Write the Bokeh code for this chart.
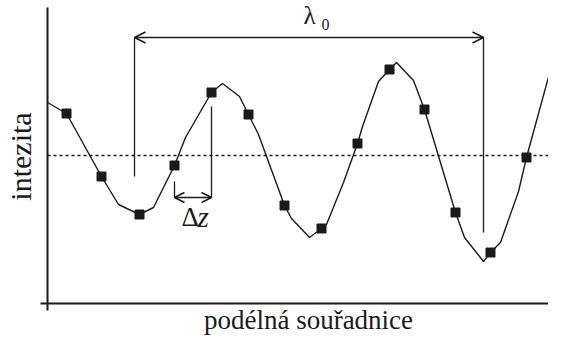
import math
from bokeh.plotting import figure
from bokeh.models import Arrow, OpenHead, Range1d
from bokeh.core.properties import value
from bokeh.embed import file_html
from bokeh.resources import INLINE

# intensity profile along the longitudinal coordinate (polyline vertices)
curve_x = [0.0, 1.9, 5.4, 7.1, 9.2, 10.6, 12.7, 13.8, 16.4, 17.5, 19.2, 20.1,
           21.1, 23.7, 24.4, 26.2, 27.4, 27.9, 29.6, 31.0, 31.5, 33.1, 34.2,
           34.9, 36.6, 37.7, 38.3, 40.8, 41.7, 43.6, 44.3, 45.3, 47.1, 47.9,
           50.5, 51.7]
curve_y = [20.1, 19.0, 12.7, 9.9, 8.9, 9.6, 13.8, 16.6, 21.1, 22.0, 20.7, 18.9,
           16.9, 9.8, 8.5, 6.6, 7.5, 7.9, 12.1, 16.0, 17.7, 22.2, 23.4,
           24.1, 22.3, 19.4, 17.4, 9.1, 6.6, 4.2, 5.1, 6.1, 11.2, 14.6,
           24.1, 25.9]

# sampled points (squares)
sample_x = [1.9, 5.4, 9.2, 12.7, 16.4, 20.1, 23.7, 27.4, 31.0, 34.2, 37.7,
            40.8, 44.3, 47.9]
sample_y = [19.0, 12.7, 8.9, 13.8, 21.1, 18.9, 9.8, 7.5, 16.0, 23.4, 19.4,
            9.1, 5.1, 14.6]

mean_level = 14.8

# lambda_0 marker
lam_x0, lam_x1 = 8.7, 43.6
lam_y = 26.6
lam_left_bottom = 12.7
lam_right_bottom = 7.1

# delta z marker
dz_x0, dz_x1 = 12.7, 16.4
dz_y = 10.6
dz_left_top = 12.2
dz_right_top = 19.7

x_label = "podélná souřadnice"
y_label = "intezita"

INK = "#1a1a1a"
SERIF = value('"Liberation Serif"')

p = figure(width=548, height=336, output_backend="svg", toolbar_location=None,
           x_range=Range1d(-4.7, 50.1), y_range=Range1d(-3.3, 30.3),
           x_axis_location=None, y_axis_location=None)
p.min_border = 0
p.min_border_left = 0
p.min_border_right = 0
p.min_border_top = 0
p.min_border_bottom = 0
p.outline_line_color = None
p.xgrid.visible = False
p.ygrid.visible = False
p.background_fill_color = "white"
p.border_fill_color = "white"

# axes lines (crossing at origin)
p.segment(x0=[0, -0.7], y0=[-0.7, 0], x1=[0, 52.0], y1=[29.6, 0],
          line_color=INK, line_width=2)

# mean level dotted
p.segment(x0=[0], y0=[mean_level], x1=[52.0], y1=[mean_level],
          line_color=INK, line_width=1.3, line_dash="3 3")

# curve and samples
p.line(curve_x, curve_y, line_color=INK, line_width=1.4)
p.scatter(sample_x, sample_y, marker="square", size=9,
          fill_color=INK, line_color=INK)

# lambda_0 verticals + arrow
p.segment(x0=[lam_x0, lam_x1], y0=[lam_y, lam_y],
          x1=[lam_x0, lam_x1], y1=[lam_left_bottom, lam_right_bottom],
          line_color=INK, line_width=1.3)
p.add_layout(Arrow(x_start=lam_x0, y_start=lam_y, x_end=lam_x1, y_end=lam_y,
                   line_color=INK, line_width=1.3,
                   start=OpenHead(size=11, line_color=INK, line_width=1.6),
                   end=OpenHead(size=11, line_color=INK, line_width=1.6)))

# delta z verticals + arrow
p.segment(x0=[dz_x0, dz_x1], y0=[dz_left_top, dz_right_top],
          x1=[dz_x0, dz_x1], y1=[dz_y, dz_y],
          line_color=INK, line_width=1.3)
p.add_layout(Arrow(x_start=dz_x0, y_start=dz_y, x_end=dz_x1, y_end=dz_y,
                   line_color=INK, line_width=1.3,
                   start=OpenHead(size=10, line_color=INK, line_width=1.6),
                   end=OpenHead(size=10, line_color=INK, line_width=1.6)))

# annotation texts (anchored at the middle of the em box)
p.text(x=[25.6], y=[28.8], text=["λ"], text_font=SERIF, text_font_size="25px",
       text_color=INK, text_baseline="middle", text_align="left")
p.text(x=[27.4], y=[27.9], text=["0"], text_font=SERIF, text_font_size="16px",
       text_color=INK, text_baseline="middle", text_align="left")
p.text(x=[13.4], y=[8.62], text=["Δ"], text_font=SERIF, text_font_size="27px",
       text_color=INK, text_baseline="middle", text_align="left")
p.text(x=[15.0], y=[8.69], text=["z"], text_font=SERIF, text_font_size="29px",
       text_font_style="italic",
       text_color=INK, text_baseline="middle", text_align="left")

# axis titles
p.text(x=[-2.7], y=[14.7], text=[y_label], text_font=SERIF,
       text_font_size="30px", text_color=INK, angle=math.pi / 2,
       text_baseline="middle", text_align="center")
p.text(x=[26.1], y=[-1.68], text=[x_label], text_font=SERIF,
       text_font_size="27px", text_color=INK,
       text_baseline="middle", text_align="center")

open("out.html", "w").write(file_html(p, INLINE))
